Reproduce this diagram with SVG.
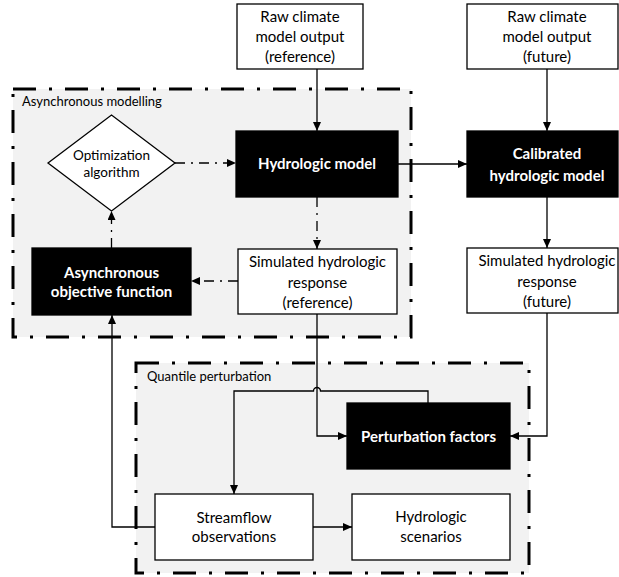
<svg xmlns="http://www.w3.org/2000/svg" width="619" height="577" viewBox="0 0 619 577">
<style>
.grp{fill:#f2f2f2;stroke:#000;stroke-width:3;stroke-dasharray:23 13 3 13}
.box{fill:#fff;stroke:#000;stroke-width:1.3}
.blk{fill:#000;stroke:#000;stroke-width:1.3}
.t{font-family:Lato,"Liberation Sans",sans-serif;font-size:15px;text-anchor:middle;fill:#000}
.tb{font-family:Lato,"Liberation Sans",sans-serif;font-size:15px;font-weight:bold;text-anchor:middle;fill:#fff}
.lbl{font-family:Lato,"Liberation Sans",sans-serif;font-size:13px;fill:#000}
.c{fill:none;stroke:#000;stroke-width:1.3;marker-end:url(#ah)}
.dd{stroke-dasharray:10 6 2 6}
</style>
<defs>
<marker id="ah" markerUnits="userSpaceOnUse" markerWidth="10" markerHeight="9" refX="9" refY="4" orient="auto">
<path d="M0,0 L9,4 L0,8 z" fill="#000"/>
</marker>
</defs>
<g id="asynchronous-modelling">
<rect class="grp" x="13" y="89" width="398" height="248"/>
<text class="lbl" x="22" y="106">Asynchronous modelling</text>
</g>
<g id="quantile-perturbation">
<rect class="grp" x="136" y="363" width="393" height="210"/>
<text class="lbl" x="147" y="381">Quantile perturbation</text>
</g>
<g id="connectors">
<path class="c" d="M317,69 V131"/>
<path class="c" d="M398,164 H467"/>
<path class="c" d="M547,69 V131"/>
<path class="c" d="M547,197 V248"/>
<path class="c dd" d="M175,163 H236"/>
<path class="c dd" d="M317,197 V249"/>
<path class="c dd" d="M238,281 H191"/>
<path class="c dd" d="M111.5,248 V211"/>
<path class="c" d="M155,527 H112 V315"/>
<path class="c" d="M317,314 V436 H347"/>
<path class="c" d="M428,403 V391 H320.5 a3.5,3.5 0 0 0 -7,0 H234 V494"/>
<path class="c" d="M547,313 V436 H510"/>
<path class="c" d="M313,527 H352"/>
</g>
<g id="raw-ref">
<rect class="box" x="237" y="4" width="126" height="65"/>
<text class="t" x="300" y="22">Raw climate</text>
<text class="t" x="300" y="42">model output</text>
<text class="t" x="300" y="62">(reference)</text>
</g>
<g id="raw-fut">
<rect class="box" x="467" y="4" width="151" height="65"/>
<text class="t" x="547" y="22">Raw climate</text>
<text class="t" x="547" y="42">model output</text>
<text class="t" x="547" y="62">(future)</text>
</g>
<g id="hydro-model">
<rect class="blk" x="236" y="131" width="162" height="66"/>
<text class="tb" x="317" y="169">Hydrologic model</text>
</g>
<g id="calibrated">
<rect class="blk" x="467" y="131" width="151" height="66"/>
<text class="tb" x="547" y="159">Calibrated</text>
<text class="tb" x="547" y="181">hydrologic model</text>
</g>
<g id="optimization">
<polygon class="box" points="48,163 111.5,115 175,163 111.5,211"/>
<text class="t" x="111.5" y="160" style="font-size:13.5px">Optimization</text>
<text class="t" x="111.5" y="177" style="font-size:13.5px">algorithm</text>
</g>
<g id="async-objective">
<rect class="blk" x="32" y="248" width="159" height="67"/>
<text class="tb" x="111.5" y="278">Asynchronous</text>
<text class="tb" x="111.5" y="297">objective function</text>
</g>
<g id="sim-ref">
<rect class="box" x="238" y="249" width="159" height="65"/>
<text class="t" x="317.5" y="267">Simulated hydrologic</text>
<text class="t" x="317.5" y="288">response</text>
<text class="t" x="317.5" y="308">(reference)</text>
</g>
<g id="sim-fut">
<rect class="box" x="467" y="248" width="151" height="65"/>
<text class="t" x="547" y="266">Simulated hydrologic</text>
<text class="t" x="547" y="287">response</text>
<text class="t" x="547" y="307">(future)</text>
</g>
<g id="perturbation-factors">
<rect class="blk" x="347" y="403" width="163" height="66"/>
<text class="tb" x="428.5" y="442">Perturbation factors</text>
</g>
<g id="streamflow">
<rect class="box" x="155" y="494" width="158" height="66"/>
<text class="t" x="234" y="523">Streamflow</text>
<text class="t" x="234" y="542">observations</text>
</g>
<g id="scenarios">
<rect class="box" x="352" y="494" width="158" height="66"/>
<text class="t" x="431" y="522">Hydrologic</text>
<text class="t" x="431" y="542">scenarios</text>
</g>
</svg>
